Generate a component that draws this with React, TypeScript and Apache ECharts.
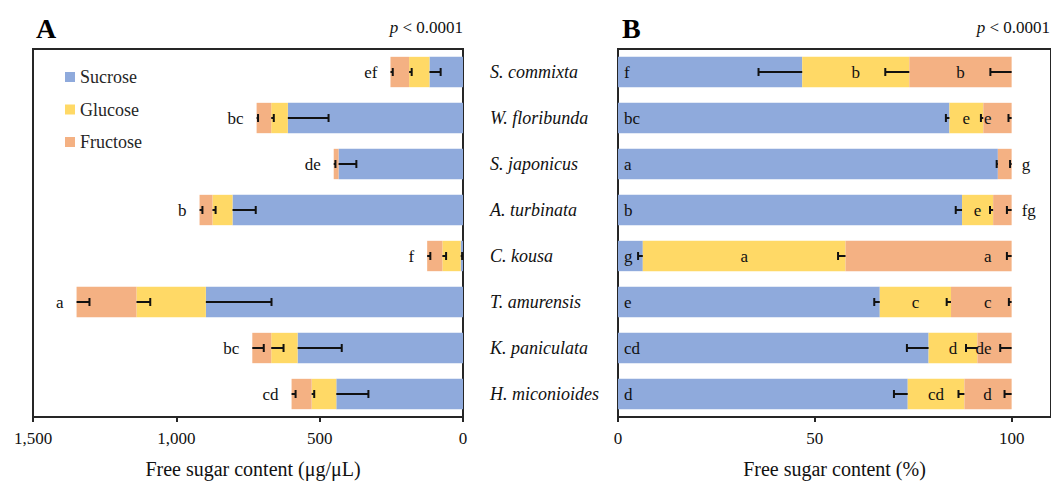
import React, { useEffect, useRef } from 'react';
import * as echarts from 'echarts';

const species = ['S. commixta', 'W. floribunda', 'S. japonicus', 'A. turbinata', 'C. kousa', 'T. amurensis', 'K. paniculata', 'H. miconioides'];
const sugars = ['Sucrose', 'Glucose', 'Fructose'];

// Panel A: free sugar content (μg/μL)
const sucroseAbs = [117, 611, 434, 804, 8, 897, 577, 442];
const glucoseAbs = [71, 58, 0, 70, 64, 242, 92, 86];
const fructoseAbs = [65, 51, 17, 45, 53, 209, 66, 70];
const sucroseAbsSD = [39, 142, 62, 81, 5, 229, 154, 112];
const glucoseAbsSD = [9, 9, 0, 11, 13, 48, 43, 9];
const fructoseAbsSD = [8, 5, 6, 10, 11, 45, 40, 14];
const totalLetters = ['ef', 'bc', 'de', 'b', 'f', 'a', 'bc', 'cd'];

// Panel B: free sugar content (%)
const sucrosePct = [46.8, 84.2, 96.5, 87.4, 6.3, 66.5, 78.9, 73.6];
const glucosePct = [27.2, 8.6, 0, 7.9, 51.5, 18.1, 12.4, 14.4];
const fructosePct = [26.0, 7.2, 3.5, 4.7, 42.2, 15.4, 8.7, 12.0];
const sucrosePctSD = [11.1, 0.9, 0.3, 1.6, 1.2, 1.4, 5.5, 3.5];
const glucosePctSD = [6.1, 0.6, 0, 0.8, 1.9, 1.1, 2.9, 1.5];
const fructosePctSD = [5.4, 0.8, 0.4, 1.2, 1.2, 0.7, 2.9, 1.8];
const sucroseLetters = ['f', 'bc', 'a', 'b', 'g', 'e', 'cd', 'd'];
const glucoseLetters = ['b', 'e', '', 'e', 'a', 'c', 'd', 'cd'];
const fructoseLetters = ['b', 'e', 'g', 'fg', 'a', 'c', 'de', 'd'];

const absTickValues = [0, 500, 1000, 1500];
const pctTickValues = [0, 50, 100];

const FONT = "'Liberation Serif', 'Times New Roman', serif";
const INK = '#262626';
const COLORS = ['#8FAADC', '#FFD966', '#F4B183'];

function errorData(vals: number[][], sds: number[][]) {
  const out: number[][] = [];
  for (let i = 0; i < species.length; i++) {
    let cum = 0;
    for (let k = 0; k < vals.length; k++) {
      cum += vals[k][i];
      if (sds[k][i] > 0) out.push([cum, cum - sds[k][i], i]);
    }
  }
  return out;
}

const renderError = (params: any, api: any) => {
  const a = api.coord([api.value(0), api.value(2)]);
  const b = api.coord([api.value(1), api.value(2)]);
  const h = 4;
  return {
    type: 'group',
    children: [
      { type: 'line', shape: { x1: a[0], y1: a[1], x2: b[0], y2: b[1] }, style: { stroke: '#111', lineWidth: 2 } },
      { type: 'line', shape: { x1: b[0], y1: b[1] - h, x2: b[0], y2: b[1] + h }, style: { stroke: '#111', lineWidth: 2 } },
    ],
  };
};

export default function App() {
  const ref = useRef<HTMLDivElement>(null);
  useEffect(() => {
    if (!ref.current) return;
    const chart = echarts.init(ref.current, null, { renderer: 'svg' });
    const labelBase = { fontFamily: FONT, fontSize: 17, color: '#111' };
    const absVals = [sucroseAbs, glucoseAbs, fructoseAbs];
    const pctVals = [sucrosePct, glucosePct, fructosePct];

    const xAxisCommon = {
      type: 'value',
      splitLine: { show: false },
      axisLine: { show: true, lineStyle: { color: INK, width: 2 } },
      axisTick: { show: true, inside: false, length: 5, lineStyle: { color: INK, width: 2 } },
      axisLabel: { fontFamily: FONT, fontSize: 17, color: '#111', margin: 13 },
      nameLocation: 'middle',
      nameGap: 42,
      nameTextStyle: { fontFamily: FONT, fontSize: 20, color: '#111', lineHeight: 20 },
    };

    const option: any = {
      animation: false,
      backgroundColor: '#fff',
      grid: [
        { left: 33, top: 49, width: 430, height: 372, show: true, borderColor: INK, borderWidth: 2, containLabel: false },
        { left: 618, top: 49, width: 435, height: 372, show: true, borderColor: INK, borderWidth: 2, containLabel: false },
      ],
      legend: {
        orient: 'vertical',
        left: 60,
        top: 63,
        itemWidth: 10,
        itemHeight: 10,
        itemGap: 14.5,
        icon: 'rect',
        selectedMode: false,
        data: sugars,
        textStyle: { fontFamily: FONT, fontSize: 18, color: INK, lineHeight: 18 },
      },
      xAxis: [
        {
          ...xAxisCommon,
          gridIndex: 0,
          inverse: true,
          min: absTickValues[0],
          max: absTickValues[absTickValues.length - 1],
          interval: absTickValues[1] - absTickValues[0],
          name: 'Free sugar content (μg/μL)',
          nameTextStyle: { ...xAxisCommon.nameTextStyle, padding: [0, 0, 0, 10] },
          axisLabel: { ...xAxisCommon.axisLabel, formatter: (v: number) => v.toLocaleString('en-US') },
        },
        {
          ...xAxisCommon,
          gridIndex: 1,
          min: 0,
          max: 110,
          interval: pctTickValues[1] - pctTickValues[0],
          name: 'Free sugar content (%)',
          axisLabel: { ...xAxisCommon.axisLabel, showMaxLabel: false },
        },
      ],
      yAxis: [
        {
          type: 'category',
          gridIndex: 0,
          data: species,
          inverse: true,
          axisLine: { show: false },
          axisTick: { show: false },
          axisLabel: { show: false },
        },
        {
          type: 'category',
          gridIndex: 1,
          data: species,
          inverse: true,
          axisLine: { show: true, lineStyle: { color: INK, width: 2 } },
          axisTick: { show: false },
          axisLabel: { fontFamily: FONT, fontSize: 18, fontStyle: 'italic', color: '#111', align: 'left', margin: 128 },
        },
      ],
      series: [
        ...sugars.map((name, k) => ({
          name,
          type: 'bar',
          stack: 'abs',
          xAxisIndex: 0,
          yAxisIndex: 0,
          barCategoryGap: '34%',
          itemStyle: { color: COLORS[k] },
          data: absVals[k],
          label: k === 2
            ? { show: true, position: 'outside', distance: 13, ...labelBase, formatter: (p: any) => totalLetters[p.dataIndex] }
            : { show: false },
        })),
        {
          type: 'custom',
          xAxisIndex: 0,
          yAxisIndex: 0,
          z: 5,
          renderItem: renderError,
          encode: { x: [0, 1], y: 2 },
          data: errorData(absVals, [sucroseAbsSD, glucoseAbsSD, fructoseAbsSD]),
        },
        {
          name: 'Sucrose',
          type: 'bar',
          stack: 'pct',
          xAxisIndex: 1,
          yAxisIndex: 1,
          barCategoryGap: '34%',
          itemStyle: { color: COLORS[0] },
          data: sucrosePct,
          label: { show: true, position: 'insideLeft', distance: 6, ...labelBase, formatter: (p: any) => sucroseLetters[p.dataIndex] },
        },
        {
          name: 'Glucose',
          type: 'bar',
          stack: 'pct',
          xAxisIndex: 1,
          yAxisIndex: 1,
          itemStyle: { color: COLORS[1] },
          data: glucosePct,
          label: { show: true, position: 'inside', ...labelBase, formatter: (p: any) => glucoseLetters[p.dataIndex] },
        },
        {
          name: 'Fructose',
          type: 'bar',
          stack: 'pct',
          xAxisIndex: 1,
          yAxisIndex: 1,
          itemStyle: { color: COLORS[2] },
          data: fructosePct.map((v, i) => ({
            value: v,
            label: v < 5
              ? { position: 'right', distance: 10 }
              : v > 20 && fructosePctSD[i] > 3
                ? { position: 'inside' }
                : { position: 'insideRight', distance: 20 },
          })),
          label: { show: true, ...labelBase, formatter: (p: any) => fructoseLetters[p.dataIndex] },
        },
        {
          type: 'custom',
          xAxisIndex: 1,
          yAxisIndex: 1,
          z: 5,
          renderItem: renderError,
          encode: { x: [0, 1], y: 2 },
          data: errorData(pctVals, [sucrosePctSD, glucosePctSD, fructosePctSD]),
        },
      ],
      graphic: [
        { type: 'text', x: 36, y: 28, style: { text: 'A', font: `bold 28px ${FONT}`, fill: '#000', align: 'left', verticalAlign: 'middle' } },
        { type: 'text', x: 622, y: 28, style: { text: 'B', font: `bold 28px ${FONT}`, fill: '#000', align: 'left', verticalAlign: 'middle' } },
        {
          type: 'text', x: 463, y: 27,
          style: { text: '{i|p} < 0.0001', font: `17px ${FONT}`, fill: '#111', align: 'right', verticalAlign: 'middle', rich: { i: { fontStyle: 'italic', fontSize: 17, fontFamily: FONT } } },
        },
        {
          type: 'text', x: 1050, y: 27,
          style: { text: '{i|p} < 0.0001', font: `17px ${FONT}`, fill: '#111', align: 'right', verticalAlign: 'middle', rich: { i: { fontStyle: 'italic', fontSize: 17, fontFamily: FONT } } },
        },
      ],
    };
    chart.setOption(option);
    return () => chart.dispose();
  }, []);
  return <div ref={ref} style={{ position: 'absolute', left: 0, top: 0, width: 1051, height: 484, overflow: 'hidden' }} />;
}
